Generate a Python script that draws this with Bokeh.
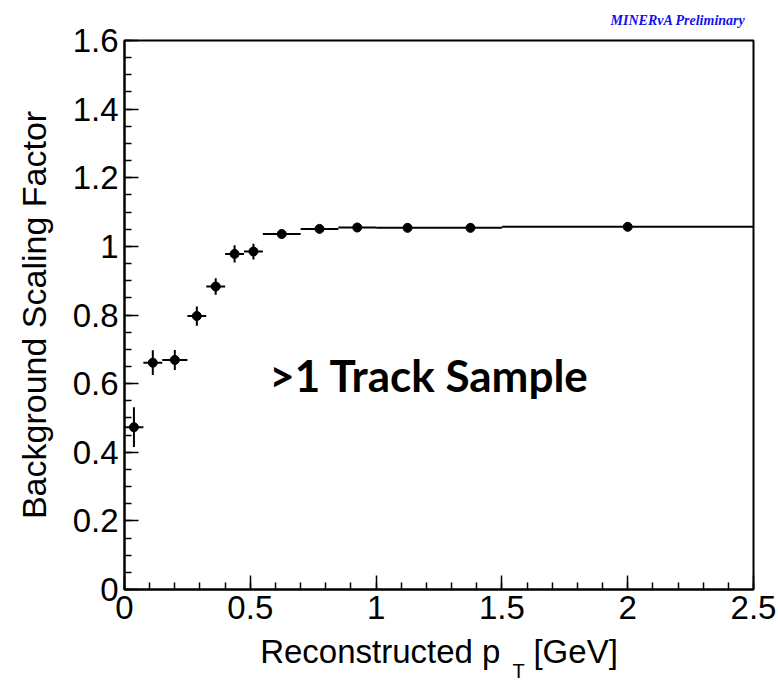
from bokeh.plotting import figure
from bokeh.models import FixedTicker, Label, ColumnDataSource, Title
from bokeh.embed import file_html
from bokeh.resources import INLINE

# ---- data ----
x_low = [0.0, 0.075, 0.15, 0.25, 0.325, 0.4, 0.475, 0.55, 0.7, 0.85, 1.0, 1.25, 1.5]
x_high = [0.075, 0.15, 0.25, 0.325, 0.4, 0.475, 0.55, 0.7, 0.85, 1.0, 1.25, 1.5, 2.5]
x_center = [0.0375, 0.1125, 0.2, 0.2875, 0.3625, 0.4375, 0.5125, 0.625, 0.775, 0.925, 1.125, 1.375, 2.0]
scale_factor = [0.473, 0.661, 0.669, 0.797, 0.883, 0.978, 0.985, 1.036, 1.051, 1.055, 1.054, 1.054, 1.057]
scale_err = [0.058, 0.036, 0.029, 0.028, 0.024, 0.025, 0.023, 0.005, 0.004, 0.004, 0.003, 0.003, 0.003]

x_ticks = [0, 0.5, 1, 1.5, 2, 2.5]
x_tick_labels = ["0", "0.5", "1", "1.5", "2", "2.5"]
y_ticks = [0, 0.2, 0.4, 0.6, 0.8, 1.0, 1.2, 1.4, 1.6]
y_tick_labels = ["0", "0.2", "0.4", "0.6", "0.8", "1", "1.2", "1.4", "1.6"]
x_minor = [i * 0.1 for i in range(26)]
y_minor = [i * 0.05 for i in range(33)]

FONT = "Liberation Sans"

p = figure(width=778, height=681, x_range=(0, 2.5), y_range=(0, 1.6),
           output_backend="svg", toolbar_location=None,
           min_border_left=124, min_border_right=25,
           min_border_top=40, min_border_bottom=92)
p.grid.visible = False
p.outline_line_color = "black"
p.outline_line_width = 2
p.background_fill_color = "white"
p.border_fill_color = "white"

src = ColumnDataSource(dict(
    xl=x_low, xh=x_high, xc=x_center, y=scale_factor,
    yl=[v - e for v, e in zip(scale_factor, scale_err)],
    yh=[v + e for v, e in zip(scale_factor, scale_err)],
))
p.segment(x0="xl", x1="xh", y0="y", y1="y", source=src, line_color="black", line_width=2)
p.segment(x0="xc", x1="xc", y0="yl", y1="yh", source=src, line_color="black", line_width=2)
p.scatter(x="xc", y="y", source=src, size=9, color="black")

for ax in (p.xaxis[0], p.yaxis[0]):
    ax.axis_line_width = 2
    ax.major_tick_in = 14
    ax.major_tick_out = 0
    ax.minor_tick_in = 7
    ax.minor_tick_out = 0
    ax.major_tick_line_width = 1.5
    ax.minor_tick_line_width = 1.5
    ax.major_label_text_font = FONT
    ax.major_label_text_font_size = "33px"
    ax.major_label_text_color = "black"
    ax.axis_label_text_font = FONT
    ax.axis_label_text_font_style = "normal"
    ax.axis_label_text_color = "black"

p.xaxis[0].ticker = FixedTicker(ticks=x_ticks, minor_ticks=x_minor)
p.xaxis[0].major_label_overrides = {t: l for t, l in zip(x_ticks, x_tick_labels)}
p.xaxis[0].major_label_standoff = 6
p.xaxis[0].axis_label = "Reconstructed p\u2002\u2002[GeV]"
p.xaxis[0].axis_label_text_font_size = "33px"
p.xaxis[0].axis_label_standoff = 11

p.yaxis[0].ticker = FixedTicker(ticks=y_ticks, minor_ticks=y_minor)
p.yaxis[0].major_label_overrides = {t: l for t, l in zip(y_ticks, y_tick_labels)}
p.yaxis[0].major_label_standoff = 6
p.yaxis[0].axis_label = "Background Scaling Factor"
p.yaxis[0].axis_label_text_font_size = "34px"
p.yaxis[0].axis_label_standoff = 17

# subscript T of p_T
p.add_layout(Title(text="T", align="left", offset=388, standoff=-26, vertical_align="top",
                   text_font=FONT, text_font_style="normal", text_font_size="20px",
                   text_color="black"), "below")

# MINERvA Preliminary
p.add_layout(Title(text="MINERνA Preliminary", align="right", offset=8, standoff=21,
                   vertical_align="top",
                   text_font="Liberation Serif", text_font_style="bold italic",
                   text_font_size="14px", text_color="#1010ee"), "above")

# sample label
p.add_layout(Label(x=0.575, y=0.625, text=">1 Track Sample", text_align="left",
                   text_baseline="middle", text_font="Lato", text_font_style="bold",
                   text_font_size="44px", text_color="black"))

open("out.html", "w").write(file_html(p, INLINE))
